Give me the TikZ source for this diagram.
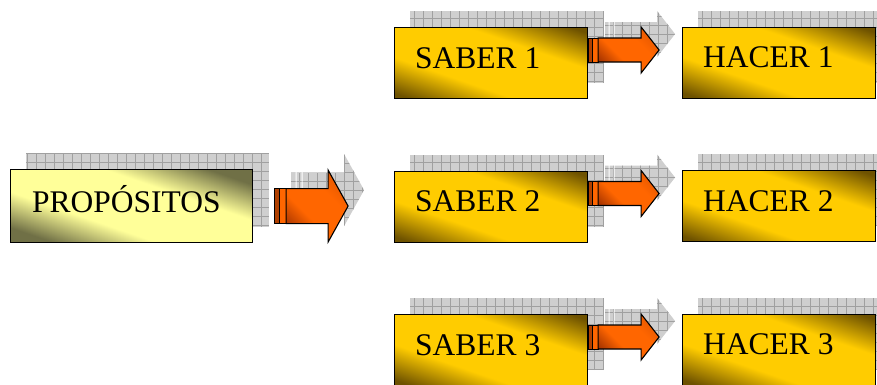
\documentclass[tikz,border=0pt]{standalone}
\usepackage{fontspec}
\setmainfont{Liberation Serif}
\usetikzlibrary{calc,backgrounds}
\definecolor{goldc}{HTML}{FFCC00}
\definecolor{golddk}{HTML}{6E5200}
\definecolor{palec}{HTML}{FFFF99}
\definecolor{paledk}{HTML}{707046}
\definecolor{orngc}{HTML}{FF6600}
\definecolor{orngdk}{HTML}{A03000}
\definecolor{bardk}{HTML}{B04000}
\definecolor{shgray}{HTML}{CFCFCF}
\definecolor{shline}{HTML}{A0A0A0}
\pgfdeclarehorizontalshading{goldh}{100bp}{color(0bp)=(golddk); color(38.5bp)=(golddk); color(45bp)=(goldc); color(55bp)=(goldc); color(61.5bp)=(golddk); color(100bp)=(golddk)}
\pgfdeclarehorizontalshading{paleh}{100bp}{color(0bp)=(paledk); color(38.5bp)=(paledk); color(45bp)=(palec); color(55bp)=(palec); color(61.5bp)=(paledk); color(100bp)=(paledk)}
\pgfdeclarehorizontalshading{orngsh}{100bp}{color(0bp)=(orngdk); color(22bp)=(orngdk); color(40bp)=(orngc); color(62bp)=(orngc); color(78bp)=(orngc!70!orngdk); color(100bp)=(orngdk)}
\tikzset{
  boxshade/.store in=\boxshade, boxshade=goldh,
  box/.style={draw=black, line width=1.1pt,
    path picture={\shade[shading=\boxshade,
        transform canvas={rotate around={71:(path picture bounding box.center)}}]
        ($(path picture bounding box.center)+(-130,-130)$) rectangle
        ($(path picture bounding box.center)+(130,130)$);},
    minimum width=193pt, minimum height=71pt, inner sep=0pt, anchor=north west},
  pbox/.style={box, boxshade=paleh, minimum width=242pt, minimum height=73pt},
  lbl/.style={inner sep=0pt, anchor=base west, font=\fontsize{31.5}{36}\selectfont},
  shfill/.style={fill=shgray},
  shgrid/.style={draw=shline, line width=0.5pt, step=9pt},
  pics/blockarrow/.style n args={5}{code={
    % #1 bars width, #2 shaft length, #3 head length, #4 shaft half-height, #5 head half-height
    \begin{scope}[shift={(16,-16)}]
      \begin{scope}
        \clip (1,-#4) rectangle (0.45*#1,#4)
              (0.45*#1+1,-#4) rectangle (#1-0.5,#4)
              (#1+0.5,-#4) -- (#1+#2,-#4) -- (#1+#2,-#5) -- (#1+#2+#3,0)
              -- (#1+#2,#5) -- (#1+#2,#4) -- (#1+0.5,#4) -- cycle;
        \fill[shfill] (0,-#5-1) rectangle (#1+#2+#3+1,#5+1);
        \draw[shgrid] (0,-#5-1) grid (#1+#2+#3+1,#5+1);
      \end{scope}
    \end{scope}
    \filldraw[fill=bardk, draw=black, line width=0.9pt] (0,-#4) rectangle (0.45*#1,#4);
    \filldraw[fill=orngc, draw=black, line width=0.9pt] (0.45*#1,-#4) rectangle (#1,#4);
    \draw[shading=orngsh, shading angle=45, draw=black, line width=1.1pt, line join=miter]
      (#1,-#4) -- (#1+#2,-#4) -- (#1+#2,-#5) -- (#1+#2+#3,0)
      -- (#1+#2,#5) -- (#1+#2,#4) -- (#1,#4) -- cycle;
  }}
}
\newcommand{\gridshadow}[2]{%
  \begin{scope}
    \clip ($(#1)+(16,-16)$) rectangle ($(#2)+(16,-16)$);
    \fill[shfill] ($(#1)+(16,-16)$) rectangle ($(#2)+(16,-16)$);
    \draw[shgrid] ($(#1)+(16,-16)$) grid ($(#2)+(16,-16)$);
  \end{scope}}
\begin{document}
\begin{tikzpicture}[x=1pt,y=-1pt]
\useasboundingbox (0,0) rectangle (877,384);
% boxes
\node[pbox] (p) at (10,169) {};
\node[box] (s1) at (394,27) {};
\node[box] (s2) at (394,170.5) {};
\node[box] (s3) at (394,314) {};
\node[box] (h1) at (682,26.5) {};
\node[box] (h2) at (682,170) {};
\node[box] (h3) at (682,313.5) {};
% shadows
\begin{pgfonlayer}{background}
  \foreach \n in {p,s1,s2,s3,h1,h2,h3}{\gridshadow{\n.south west}{\n.north east}}
\end{pgfonlayer}
% labels
\node[lbl] (pt) at ($(p.north west)+(22,43)$) {PROPÓSITOS};
\node[lbl] (s1t) at ($(s1.north west)+(21,41)$) {SABER 1};
\node[lbl] (s2t) at ($(s2.north west)+(21,41)$) {SABER 2};
\node[lbl] (s3t) at ($(s3.north west)+(21,41)$) {SABER 3};
\node[lbl] (h1t) at ($(h1.north west)+(21,41)$) {HACER 1};
\node[lbl] (h2t) at ($(h2.north west)+(21,41)$) {HACER 2};
\node[lbl] (h3t) at ($(h3.north west)+(21,41)$) {HACER 3};
% block arrows
\pic at ($(p.east)+(21,0)$) {blockarrow={12}{42}{20}{17.5}{36}};
\pic at ($(s1.north east)+(0,23)$) {blockarrow={10}{43}{18}{12}{23}};
\pic at ($(s2.north east)+(0,23)$) {blockarrow={10}{43}{18}{12}{23}};
\pic at ($(s3.north east)+(0,23)$) {blockarrow={10}{43}{18}{12}{23}};
\end{tikzpicture}
\end{document}
